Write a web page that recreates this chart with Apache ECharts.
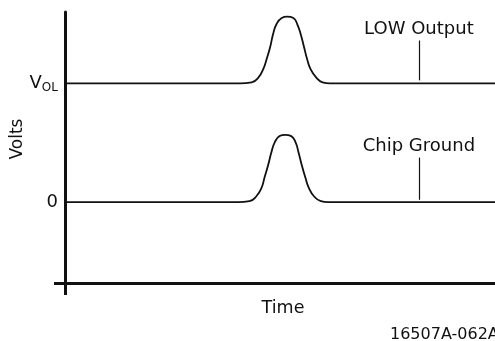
<!DOCTYPE html>
<html>
<head>
<meta charset="utf-8">
<script src="https://cdn.jsdelivr.net/npm/echarts@6/dist/echarts.min.js"></script>
<style>html,body{margin:0;padding:0;background:#fff;}#c{width:495px;height:341px;}</style>
</head>
<body>
<div id="c"></div>
<script>
// Time axis units 0..100, volts in units of V_OL (V_OL = 1, ground = 0)
const lowOutputTime = [0, 40.7, 43.4, 45.0, 46.1, 46.9, 47.7, 48.4, 49.2, 50.4, 51.7, 53.1, 54.0, 54.8, 55.6, 56.3, 57.1, 58.4, 59.9, 61.6, 100];
const lowOutputVolts = [1, 1.0, 1.008, 1.050, 1.120, 1.205, 1.303, 1.415, 1.499, 1.550, 1.561, 1.550, 1.499, 1.415, 1.303, 1.205, 1.120, 1.050, 1.008, 1.0, 1];
const groundTime = [0, 40.2, 42.9, 44.5, 45.7, 46.4, 47.2, 48.0, 48.8, 49.9, 51.2, 52.6, 53.6, 54.3, 55.1, 55.9, 56.7, 57.9, 59.5, 61.2, 100];
const groundVolts = [0, 0, 0.008, 0.050, 0.121, 0.207, 0.306, 0.420, 0.505, 0.556, 0.567, 0.556, 0.505, 0.420, 0.306, 0.207, 0.121, 0.050, 0.008, 0, 0];
const yTickValues = [0, 1];
const yTickLabels = {0: '0', 1: '{v|V}{s|OL}'};
const seriesNames = ['LOW Output', 'Chip Ground'];
const pointerTime = 82.3;
const lowPointer = [1.025, 1.36];
const groundPointer = [0.02, 0.375];
const yMin = -0.68, yMax = 1.6;
const xMin = 0, xMax = 100;
const figureId = '16507A-062A';

const FONT = 'DejaVu Sans';
const INK = '#111';

function zip(a, b) { return a.map((v, i) => [v, b[i]]); }

function pointer(t, ys, label) {
  return {
    silent: true,
    symbol: ['none', 'none'],
    animation: false,
    lineStyle: { color: INK, width: 1.2, type: 'solid' },
    label: {
      show: true, position: 'end', distance: 2,
      formatter: label, color: INK, fontFamily: FONT, fontSize: 18
    },
    data: [[{ coord: [t, ys[0]] }, { coord: [t, ys[1]] }]]
  };
}

const chart = echarts.init(document.getElementById('c'));
chart.setOption({
  animation: false,
  backgroundColor: '#fff',
  title: {
    text: figureId, left: 390, top: 327, padding: 0,
    textStyle: { fontFamily: FONT, fontSize: 16, fontWeight: 'normal', color: INK }
  },
  grid: { left: 65, right: 0, top: 12, bottom: 58, outerBoundsMode: 'none', containLabel: false },
  xAxis: {
    type: 'value', min: xMin, max: xMax,
    name: 'Time', nameLocation: 'middle', nameGap: 16, nameMoveOverlap: false,
    nameTextStyle: { fontFamily: FONT, fontSize: 17.5, color: INK, padding: [0, 0, 0, 6] },
    axisLine: { onZero: false, lineStyle: { color: INK, width: 3 } },
    axisTick: { show: true, customValues: [xMin], length: 12, lineStyle: { color: INK, width: 3 } },
    axisLabel: { show: false },
    splitLine: { show: false }
  },
  yAxis: {
    type: 'value', min: yMin, max: yMax,
    name: 'Volts', nameLocation: 'middle', nameGap: 39, nameMoveOverlap: false,
    nameTextStyle: { fontFamily: FONT, fontSize: 17, color: INK, padding: [0, 0, 0, 17] },
    axisLine: { onZero: false, lineStyle: { color: INK, width: 3 } },
    axisTick: { show: true, customValues: [yMin], length: 11, lineStyle: { color: INK, width: 3 } },
    axisLabel: {
      customValues: yTickValues, margin: 7,
      formatter: v => yTickLabels[v],
      color: INK, fontFamily: FONT, fontSize: 18,
      rich: {
        v: { fontFamily: FONT, fontSize: 18, lineHeight: 22, color: INK },
        s: { fontFamily: FONT, fontSize: 12, lineHeight: 12, verticalAlign: 'bottom', color: INK }
      }
    },
    splitLine: { show: false }
  },
  series: [
    {
      name: seriesNames[0], type: 'line', data: zip(lowOutputTime, lowOutputVolts),
      showSymbol: false, smooth: 0.5, lineStyle: { color: INK, width: 1.8 },
      markLine: pointer(pointerTime, lowPointer, seriesNames[0])
    },
    {
      name: seriesNames[1], type: 'line', data: zip(groundTime, groundVolts),
      showSymbol: false, smooth: 0.5, lineStyle: { color: INK, width: 1.8 },
      markLine: pointer(pointerTime, groundPointer, seriesNames[1])
    }
  ]
});
</script>
</body>
</html>
